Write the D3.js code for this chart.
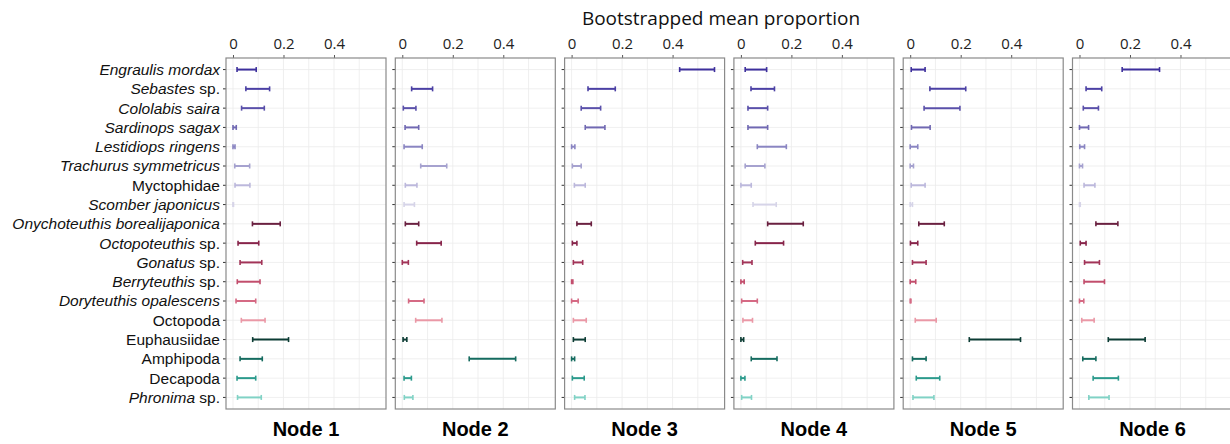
<!DOCTYPE html>
<html>
<head>
<meta charset="utf-8">
<script src="https://cdn.jsdelivr.net/npm/d3@7"></script>
<style>
  body { margin: 0; background: #fff; }
  svg { display: block; }
</style>
</head>
<body>
<svg width="1230" height="444"></svg>
<script>
// Prey taxa (top to bottom), italic part + plain suffix
var taxa = [
  ["Engraulis mordax", ""], ["Sebastes", " sp."], ["Cololabis saira", ""],
  ["Sardinops sagax", ""], ["Lestidiops ringens", ""], ["Trachurus symmetricus", ""],
  ["", "Myctophidae"], ["Scomber japonicus", ""], ["Onychoteuthis borealijaponica", ""],
  ["Octopoteuthis", " sp."], ["Gonatus", " sp."], ["Berryteuthis", " sp."],
  ["Doryteuthis opalescens", ""], ["", "Octopoda"], ["", "Euphausiidae"],
  ["", "Amphipoda"], ["", "Decapoda"], ["Phronima", " sp."]
];

var colors = [
  "#3d2f9c", "#4b40a4", "#5a50aa", "#7068b2", "#8a85c2", "#a6a2cf", "#bcb8dc", "#d6d4e8",
  "#6a2040", "#87244a", "#a23458", "#c24d6c", "#d56a84", "#ea98a6",
  "#0c3c34", "#156b5f", "#2b9a8c", "#80d2c5"
];

var nodes = ["Node 1", "Node 2", "Node 3", "Node 4", "Node 5", "Node 6"];
var ticks = [0, 0.2, 0.4];

// lower / upper bootstrap bounds per node (null = not present)
var lower1 = [0.016, 0.051, 0.034, 0.000, 0.000, 0.007, 0.008, 0.000, 0.077, 0.020, 0.028, 0.017, 0.012, 0.033, 0.078, 0.028, 0.016, 0.018];
var upper1 = [0.092, 0.145, 0.124, 0.013, 0.008, 0.066, 0.067, 0.002, 0.187, 0.102, 0.114, 0.107, 0.090, 0.127, 0.220, 0.116, 0.090, 0.112];
var lower2 = [null, 0.037, 0.004, 0.011, 0.007, 0.073, 0.012, 0.007, 0.012, 0.057, 0.000, null, 0.025, 0.053, 0.003, 0.265, 0.007, 0.008];
var upper2 = [null, 0.120, 0.054, 0.065, 0.079, 0.176, 0.058, 0.048, 0.065, 0.154, 0.024, null, 0.086, 0.157, 0.018, 0.449, 0.036, 0.042];
var lower3 = [0.428, 0.065, 0.038, 0.054, 0.000, 0.003, 0.011, null, 0.021, 0.003, 0.007, 0.000, 0.000, 0.007, 0.007, 0.000, 0.003, 0.012];
var upper3 = [0.566, 0.173, 0.115, 0.132, 0.013, 0.038, 0.054, null, 0.078, 0.021, 0.044, 0.005, 0.026, 0.058, 0.054, 0.012, 0.050, 0.053];
var lower4 = [0.017, 0.040, 0.028, 0.028, 0.065, 0.017, 0.000, 0.048, 0.106, 0.057, 0.007, 0.000, 0.003, 0.008, 0.000, 0.041, 0.000, 0.003];
var upper4 = [0.102, 0.133, 0.106, 0.106, 0.180, 0.095, 0.041, 0.140, 0.247, 0.169, 0.044, 0.013, 0.065, 0.046, 0.011, 0.143, 0.016, 0.042];
var lower5 = [0.004, 0.078, 0.055, 0.005, 0.000, 0.000, 0.004, 0.000, 0.034, 0.001, 0.009, 0.000, 0.000, 0.020, 0.234, 0.009, 0.024, 0.011];
var upper5 = [0.059, 0.220, 0.197, 0.079, 0.030, 0.013, 0.059, 0.009, 0.135, 0.030, 0.063, 0.022, 0.003, 0.103, 0.437, 0.063, 0.117, 0.094];
var lower6 = [0.169, 0.026, 0.015, 0.000, 0.001, 0.000, 0.018, 0.000, 0.065, 0.003, 0.020, 0.018, 0.000, 0.009, 0.114, 0.013, 0.054, 0.037];
var upper6 = [0.317, 0.088, 0.075, 0.036, 0.020, 0.012, 0.061, 0.003, 0.152, 0.026, 0.079, 0.099, 0.017, 0.058, 0.260, 0.065, 0.154, 0.117];

var lowers = [lower1, lower2, lower3, lower4, lower5, lower6];
var uppers = [upper1, upper2, upper3, upper4, upper5, upper6];

var svg = d3.select("svg");

var panelLeft = 226, panelStep = 169.3, panelW = 160;
var panelTop = 58, panelH = 351;

var x = d3.scaleLinear().domain([-0.0277, 0.606]).range([0, panelW]);
var y = d3.scalePoint().domain(d3.range(taxa.length)).range([0, panelH]).padding(0.6);

// title
svg.append("text")
    .attr("x", 721).attr("y", 25)
    .attr("text-anchor", "middle")
    .style("font-family", "'Open Sans', sans-serif")
    .style("font-size", "19px")
    .attr("fill", "#111")
    .text("Bootstrapped mean proportion");

// y labels
var ylab = svg.append("g")
    .attr("transform", "translate(" + (panelLeft - 6) + "," + panelTop + ")")
    .style("font-family", "'Liberation Sans', Arial, sans-serif")
    .style("font-size", "15.5px");
ylab.selectAll("text")
    .data(taxa)
    .enter().append("text")
      .attr("x", 0)
      .attr("y", function(d, i) { return y(i); })
      .attr("dy", "0.35em")
      .attr("text-anchor", "end")
      .attr("fill", "#111")
      .each(function(d) {
        var t = d3.select(this);
        if (d[0]) t.append("tspan").style("font-style", "italic").text(d[0]);
        if (d[1]) t.append("tspan").text(d[1]);
      });

nodes.forEach(function(node, k) {
  var g = svg.append("g")
      .attr("transform", "translate(" + (panelLeft + k * panelStep) + "," + panelTop + ")");

  // grid
  g.selectAll(".vgrid")
      .data(d3.range(0, 0.55, 0.1))
      .enter().append("line")
        .attr("x1", function(d) { return x(d); })
        .attr("x2", function(d) { return x(d); })
        .attr("y1", 0).attr("y2", panelH)
        .attr("stroke", "#ebebeb").attr("stroke-width", 0.8);
  g.selectAll(".hgrid")
      .data(taxa)
      .enter().append("line")
        .attr("x1", 0).attr("x2", panelW)
        .attr("y1", function(d, i) { return y(i); })
        .attr("y2", function(d, i) { return y(i); })
        .attr("stroke", "#ebebeb").attr("stroke-width", 0.8);

  // top axis
  var ax = g.append("g").call(d3.axisTop(x).tickValues(ticks).tickSize(3)
      .tickFormat(function(d) { return d === 0 ? "0" : d3.format(".1f")(d); }));
  ax.select(".domain").remove();
  ax.selectAll(".tick line").attr("stroke", "#555");
  ax.selectAll("text")
      .attr("y", -9)
      .style("font-family", "'Open Sans', sans-serif")
      .style("font-size", "15px")
      .attr("fill", "#222");

  // left ticks
  g.selectAll(".ytick")
      .data(taxa)
      .enter().append("line")
        .attr("x1", -3).attr("x2", 0)
        .attr("y1", function(d, i) { return y(i); })
        .attr("y2", function(d, i) { return y(i); })
        .attr("stroke", "#333").attr("stroke-width", 1);

  // error bars
  var lo = lowers[k], hi = uppers[k];
  var rows = d3.range(taxa.length).filter(function(i) { return lo[i] !== null; });
  var bars = g.selectAll(".bar")
      .data(rows)
      .enter().append("g");
  bars.append("line")
      .attr("x1", function(i) { return x(lo[i]); })
      .attr("x2", function(i) { return x(hi[i]); })
      .attr("y1", function(i) { return y(i); })
      .attr("y2", function(i) { return y(i); })
      .attr("stroke", function(i) { return colors[i]; })
      .attr("stroke-width", 2);
  [lo, hi].forEach(function(arr) {
    bars.append("line")
        .attr("x1", function(i) { return x(arr[i]); })
        .attr("x2", function(i) { return x(arr[i]); })
        .attr("y1", function(i) { return y(i) - 2.5; })
        .attr("y2", function(i) { return y(i) + 2.5; })
        .attr("stroke", function(i) { return colors[i]; })
        .attr("stroke-width", 1.6);
  });

  // border
  g.append("rect")
      .attr("x", 0).attr("y", 0)
      .attr("width", panelW).attr("height", panelH)
      .attr("fill", "none")
      .attr("stroke", "#8a8a8a").attr("stroke-width", 1.2);

  // node label
  g.append("text")
      .attr("x", panelW / 2).attr("y", panelH + 27)
      .attr("text-anchor", "middle")
      .style("font-family", "'Liberation Sans', Arial, sans-serif")
      .style("font-size", "20px")
      .style("font-weight", "bold")
      .attr("fill", "#000")
      .text(node);
});
</script>
</body>
</html>
